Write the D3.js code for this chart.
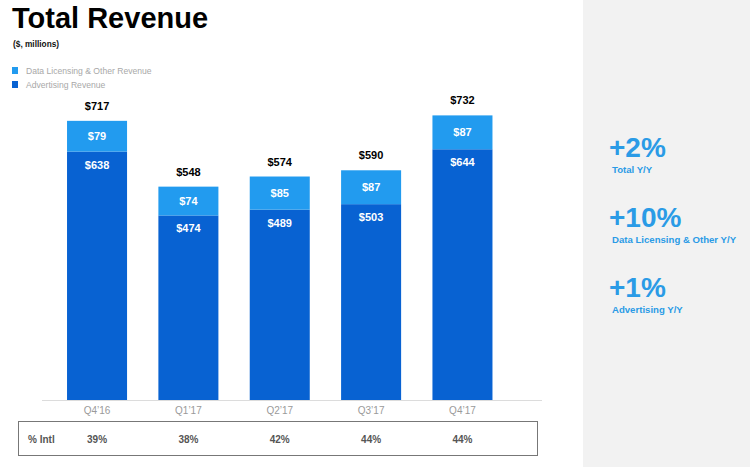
<!DOCTYPE html>
<html>
<head>
<meta charset="utf-8">
<script src="https://cdn.jsdelivr.net/npm/d3@7"></script>
<style>
  html, body { margin: 0; padding: 0; background: #fff; }
  svg { display: block; font-family: "Liberation Sans", Arial, sans-serif; }
</style>
</head>
<body>
<svg width="750" height="467"></svg>
<script>
const QUARTERS = ["Q4’16", "Q1’17", "Q2’17", "Q3’17", "Q4’17"];
const ADVERTISING = [638, 474, 489, 503, 644];
const DATA_LICENSING = [79, 74, 85, 87, 87];
const TOTALS = [717, 548, 574, 590, 732];
const PCT_INTL = ["39%", "38%", "42%", "44%", "44%"];
const SERIES = ["Data Licensing & Other Revenue", "Advertising Revenue"];
const HIGHLIGHTS = [
  { value: "+2%", label: "Total Y/Y" },
  { value: "+10%", label: "Data Licensing & Other Y/Y" },
  { value: "+1%", label: "Advertising Y/Y" },
];

const LIGHT = "#229bef";
const DARK = "#0862d2";
const ACCENT = "#2a9be6";

const BASELINE = 400;

function main() {
  const svg = d3.select("svg");

  // grey side panel
  svg.append("rect")
    .attr("x", 583).attr("y", 0)
    .attr("width", 167).attr("height", 467)
    .attr("fill", "#f2f2f2");

  svg.append("text")
    .attr("x", 12).attr("y", 28)
    .attr("font-size", 29).attr("font-weight", "bold")
    .attr("fill", "#000")
    .text("Total Revenue");

  svg.append("text")
    .attr("x", 13).attr("y", 47)
    .attr("font-size", 8.3).attr("font-weight", "bold")
    .attr("fill", "#111")
    .text("($, millions)");

  const legend = svg.append("g");
  SERIES.forEach((s, i) => {
    legend.append("rect")
      .attr("x", 12).attr("y", 67 + i * 14)
      .attr("width", 6).attr("height", 7)
      .attr("fill", i === 0 ? LIGHT : DARK);
    legend.append("text")
      .attr("x", 26).attr("y", 73.5 + i * 14)
      .attr("font-size", 8.6).attr("fill", "#a8a8a8")
      .text(s);
  });

  const x = d3.scaleBand()
    .domain(QUARTERS)
    .range([51.5, 508])
    .paddingInner(0.343)
    .paddingOuter(0.17);

  const y = d3.scaleLinear()
    .domain([0, d3.max(TOTALS)])
    .range([BASELINE, 115]);

  const bars = svg.append("g");

  bars.selectAll("rect.adv")
    .data(QUARTERS)
    .enter().append("rect")
    .attr("class", "adv")
    .attr("x", (d) => x(d))
    .attr("width", x.bandwidth())
    .attr("y", (d, i) => y(ADVERTISING[i]))
    .attr("height", (d, i) => y(0) - y(ADVERTISING[i]))
    .attr("fill", DARK);

  bars.selectAll("rect.lic")
    .data(QUARTERS)
    .enter().append("rect")
    .attr("class", "lic")
    .attr("x", (d) => x(d))
    .attr("width", x.bandwidth())
    .attr("y", (d, i) => y(ADVERTISING[i] + DATA_LICENSING[i]))
    .attr("height", (d, i) => y(ADVERTISING[i]) - y(ADVERTISING[i] + DATA_LICENSING[i]))
    .attr("fill", LIGHT);

  const cx = (d) => x(d) + x.bandwidth() / 2;

  bars.selectAll("text.total")
    .data(QUARTERS)
    .enter().append("text")
    .attr("x", cx)
    .attr("y", (d, i) => y(TOTALS[i]) - 11)
    .attr("text-anchor", "middle")
    .attr("font-size", 11).attr("font-weight", "bold")
    .attr("fill", "#000")
    .text((d, i) => "$" + TOTALS[i]);

  bars.selectAll("text.lic")
    .data(QUARTERS)
    .enter().append("text")
    .attr("x", cx)
    .attr("y", (d, i) => (y(ADVERTISING[i]) + y(ADVERTISING[i] + DATA_LICENSING[i])) / 2 + 4)
    .attr("text-anchor", "middle")
    .attr("font-size", 11).attr("font-weight", "bold")
    .attr("fill", "#fff")
    .text((d, i) => "$" + DATA_LICENSING[i]);

  bars.selectAll("text.adv")
    .data(QUARTERS)
    .enter().append("text")
    .attr("x", cx)
    .attr("y", (d, i) => y(ADVERTISING[i]) + 17)
    .attr("text-anchor", "middle")
    .attr("font-size", 11).attr("font-weight", "bold")
    .attr("fill", "#fff")
    .text((d, i) => "$" + ADVERTISING[i]);

  // baseline + category axis
  svg.append("line")
    .attr("x1", 42).attr("x2", 542)
    .attr("y1", BASELINE + 0.5).attr("y2", BASELINE + 0.5)
    .attr("stroke", "#dcdcdc");

  const axis = svg.append("g")
    .attr("transform", `translate(0,${BASELINE})`)
    .call(d3.axisBottom(x).tickSize(0).tickPadding(7));
  axis.select(".domain").remove();
  axis.selectAll("text")
    .attr("font-family", "'Liberation Sans', Arial, sans-serif")
    .attr("font-size", 10)
    .attr("fill", "#9a9a9a");

  // % Intl table
  svg.append("rect")
    .attr("x", 18.5).attr("y", 421.5)
    .attr("width", 519).attr("height", 34)
    .attr("fill", "none")
    .attr("stroke", "#777").attr("stroke-width", 1);

  svg.append("text")
    .attr("x", 28).attr("y", 443)
    .attr("font-size", 10).attr("font-weight", "bold")
    .attr("fill", "#555")
    .text("% Intl");

  svg.append("g").selectAll("text")
    .data(QUARTERS)
    .enter().append("text")
    .attr("x", cx)
    .attr("y", 443)
    .attr("text-anchor", "middle")
    .attr("font-size", 10).attr("font-weight", "bold")
    .attr("fill", "#555")
    .text((d, i) => PCT_INTL[i]);

  // right-hand highlights
  const hl = svg.append("g").selectAll("g")
    .data(HIGHLIGHTS)
    .enter().append("g")
    .attr("transform", (d, i) => `translate(609,${157 + i * 70})`);

  hl.append("text")
    .attr("font-size", 28).attr("font-weight", "bold")
    .attr("fill", ACCENT)
    .text((d) => d.value);

  hl.append("text")
    .attr("x", 3).attr("y", 16)
    .attr("font-size", 9.6).attr("font-weight", "bold")
    .attr("fill", ACCENT)
    .text((d) => d.label);
}

main();
</script>
</body>
</html>
